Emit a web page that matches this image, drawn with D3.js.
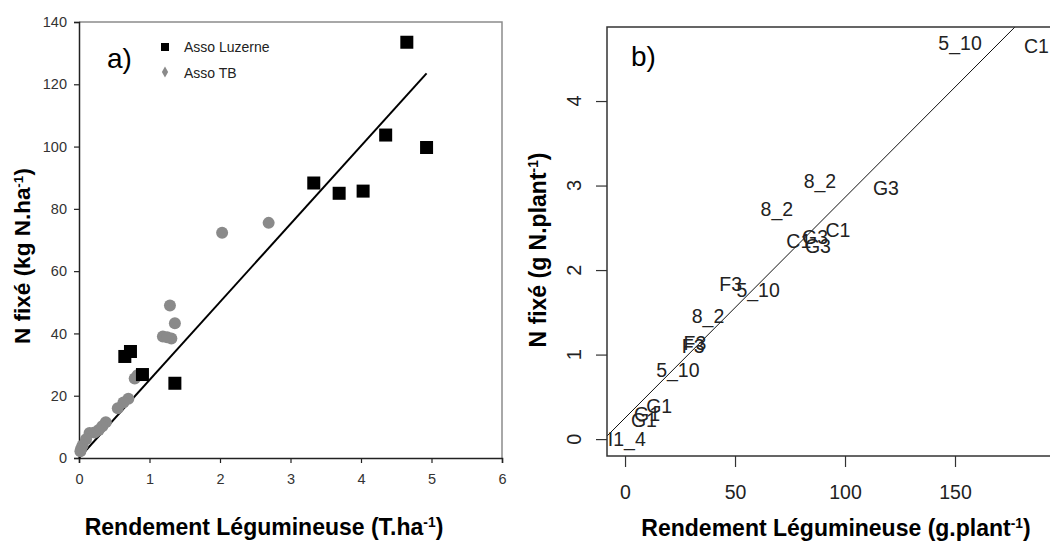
<!DOCTYPE html>
<html>
<head>
<meta charset="utf-8">
<title>N fixé vs rendement</title>
<script src="https://d3js.org/d3.v7.min.js"></script>
<style>
  body { margin: 0; background: #fff; }
  svg { display: block; font-family: "Liberation Sans", Arial, sans-serif; }
</style>
</head>
<body>
<div id="chart"></div>
<script>
// panel a) - Asso Luzerne (squares)
var luzX = [4.65, 4.93, 4.35, 3.33, 3.69, 4.03, 0.65, 0.73, 0.9, 1.36];
var luzY = [133.5, 99.7, 103.7, 88.3, 85, 85.7, 32.6, 34.2, 26.8, 24];
// panel a) - Asso TB (grey dots)
var tbX = [2.03, 2.69, 1.29, 1.36, 1.19, 1.25, 1.31, 0.79, 0.83, 0.7, 0.63, 0.55,
           0.38, 0.33, 0.28, 0.22, 0.15, 0.1, 0.05, 0.03, 0.02];
var tbY = [72.3, 75.5, 49, 43.3, 39, 38.8, 38.4, 25.5, 26.6, 19, 17.8, 16,
           11.5, 10.2, 9, 8.2, 8, 6, 4, 3, 2.2];
var lineAX = [0, 4.93];
var lineAY = [0, 123.5];
var xTicksA = [0, 1, 2, 3, 4, 5, 6];
var yTicksA = [0, 20, 40, 60, 80, 100, 120, 140];
var legendA = ["Asso Luzerne", "Asso TB"];

// panel b) - labelled points
var labB = ["5_10", "C1", "8_2", "G3", "8_2", "C1", "C1", "G3", "G3", "F3", "5_10",
            "8_2", "F3", "F3", "5_10", "G1", "G1", "G1", "I1_4"];
var xB = [152.3, 187, 88.6, 118.6, 69, 96.8, 79, 86.4, 87.7, 48, 60.5,
          37.7, 31.8, 31, 24, 15.5, 10, 8.6, 0.8];
var yB = [4.69, 4.65, 3.05, 2.97, 2.72, 2.47, 2.35, 2.39, 2.28, 1.83, 1.77,
          1.46, 1.14, 1.1, 0.82, 0.39, 0.3, 0.23, 0.0];
var regB = [0.25, 0.0261]; // intercept, slope
var xTicksB = [0, 50, 100, 150];
var yTicksB = [0, 1, 2, 3, 4];

var W = 1050, H = 543;
var svg = d3.select("#chart").append("svg")
  .attr("width", W).attr("height", H);

function supTitle(g, main, sup, close) {
  g.append("tspan").text(main);
  g.append("tspan").text(sup).attr("font-size", "0.6em").attr("dy", "-0.55em");
  g.append("tspan").text(close).attr("dy", "0.35em");
}

// ---------------- panel a ----------------
var xa = d3.scaleLinear().domain([0, 6]).range([79, 502]);
var ya = d3.scaleLinear().domain([0, 140]).range([458, 22]);

var pa = svg.append("g");

// grey frame top/right
pa.append("path")
  .attr("d", "M" + xa(0) + "," + ya(140) + "H" + xa(6) + "V" + ya(0))
  .attr("fill", "none").attr("stroke", "#8c8c8c").attr("stroke-width", 1.5);

var axA = pa.append("g").attr("transform", "translate(0," + ya(0) + ")")
  .call(d3.axisBottom(xa).tickValues(xTicksA).tickSize(5).tickPadding(11).tickFormat(d3.format("d")));
var ayA = pa.append("g").attr("transform", "translate(" + xa(0) + ",0)")
  .call(d3.axisLeft(ya).tickValues(yTicksA).tickSize(5).tickPadding(7).tickFormat(d3.format("d")));
[axA, ayA].forEach(function(a) {
  a.select(".domain").attr("stroke", "#222").attr("stroke-width", 1.5);
  a.selectAll(".tick line").attr("stroke", "#222").attr("stroke-width", 1.2);
  a.selectAll(".tick text").attr("font-size", 14.5).attr("fill", "#333")
    .attr("font-family", "Liberation Sans, Arial, sans-serif");
});

pa.append("line")
  .attr("x1", xa(lineAX[0])).attr("y1", ya(lineAY[0]))
  .attr("x2", xa(lineAX[1])).attr("y2", ya(lineAY[1]))
  .attr("stroke", "#000").attr("stroke-width", 2);

pa.selectAll("circle.tb").data(d3.range(tbX.length)).enter().append("circle")
  .attr("class", "tb")
  .attr("cx", function(i) { return xa(tbX[i]); })
  .attr("cy", function(i) { return ya(tbY[i]); })
  .attr("r", 6).attr("fill", "#8a8a8a");

pa.selectAll("rect.luz").data(d3.range(luzX.length)).enter().append("rect")
  .attr("class", "luz")
  .attr("x", function(i) { return xa(luzX[i]) - 6.5; })
  .attr("y", function(i) { return ya(luzY[i]) - 6.5; })
  .attr("width", 13).attr("height", 13).attr("fill", "#000");

// legend
var lg = pa.append("g");
lg.append("rect").attr("x", 161).attr("y", 43).attr("width", 8).attr("height", 8).attr("fill", "#000");
lg.append("path").attr("d", d3.symbol(d3.symbolDiamond, 34)()).attr("transform", "translate(165,72)").attr("fill", "#8a8a8a");
lg.selectAll("text").data(legendA).enter().append("text")
  .attr("x", 184).attr("y", function(d, i) { return 52 + i * 26; })
  .attr("font-size", 14).attr("fill", "#222").text(function(d) { return d; });

pa.append("text").attr("x", 107).attr("y", 68).attr("font-size", 28).text("a)");

var ta = pa.append("text").attr("x", 264).attr("y", 535)
  .attr("text-anchor", "middle").attr("font-size", 23).attr("font-weight", "bold");
supTitle(ta, "Rendement Légumineuse (T.ha", "-1", ")");

var tya = pa.append("text").attr("transform", "translate(30,256) rotate(-90)")
  .attr("text-anchor", "middle").attr("font-size", 22.5).attr("font-weight", "bold");
supTitle(tya, "N fixé (kg N.ha", "-1", ")");

// ---------------- panel b ----------------
var xb = d3.scaleLinear().domain([-8.2, 200]).range([607, 1065]);
var yb = d3.scaleLinear().domain([-0.2, 4.876]).range([456, 27]);

var pb = svg.append("g");
pb.append("clipPath").attr("id", "clipb").append("rect")
  .attr("x", xb(-8.2)).attr("y", yb(4.876))
  .attr("width", xb(200) - xb(-8.2)).attr("height", yb(-0.2) - yb(4.876));

var inner = pb.append("g").attr("clip-path", "url(#clipb)");
inner.append("line")
  .attr("x1", xb(-8.2)).attr("y1", yb(regB[0] + regB[1] * -8.2))
  .attr("x2", xb(200)).attr("y2", yb(regB[0] + regB[1] * 200))
  .attr("stroke", "#111").attr("stroke-width", 1);
inner.selectAll("text.lab").data(d3.range(labB.length)).enter().append("text")
  .attr("class", "lab")
  .attr("x", function(i) { return xb(xB[i]); })
  .attr("y", function(i) { return yb(yB[i]); })
  .attr("dy", "0.36em").attr("text-anchor", "middle")
  .attr("font-size", 19.5).attr("fill", "#222")
  .text(function(i) { return labB[i]; });

pb.append("rect")
  .attr("x", xb(-8.2)).attr("y", yb(4.876))
  .attr("width", xb(200) - xb(-8.2)).attr("height", yb(-0.2) - yb(4.876))
  .attr("fill", "none").attr("stroke", "#333").attr("stroke-width", 1.5);

var axB = pb.append("g").attr("transform", "translate(0," + yb(-0.2) + ")")
  .call(d3.axisBottom(xb).tickValues(xTicksB).tickSize(11).tickPadding(18).tickFormat(d3.format("d")));
var ayB = pb.append("g").attr("transform", "translate(" + xb(-8.2) + ",0)")
  .call(d3.axisLeft(yb).tickValues(yTicksB).tickSize(11).tickFormat(""));
[axB, ayB].forEach(function(a) {
  a.select(".domain").remove();
  a.selectAll(".tick line").attr("stroke", "#333").attr("stroke-width", 1.2);
});
axB.selectAll(".tick text").attr("font-size", 19.5).attr("fill", "#222")
  .attr("font-family", "Liberation Sans, Arial, sans-serif");

// R style y labels, parallel to the axis
pb.selectAll("text.ylab").data(yTicksB).enter().append("text")
  .attr("class", "ylab")
  .attr("transform", function(d) { return "translate(574," + yb(d) + ") rotate(-90)"; })
  .attr("dy", "0.36em").attr("text-anchor", "middle")
  .attr("font-size", 20).attr("fill", "#222")
  .text(function(d) { return d; });

pb.append("text").attr("x", 631).attr("y", 66).attr("font-size", 28).text("b)");

var tb = pb.append("text").attr("x", 836).attr("y", 536)
  .attr("text-anchor", "middle").attr("font-size", 23).attr("font-weight", "bold");
supTitle(tb, "Rendement Légumineuse (g.plant", "-1", ")");

var tyb = pb.append("text").attr("transform", "translate(546,250) rotate(-90)")
  .attr("text-anchor", "middle").attr("font-size", 23).attr("font-weight", "bold");
supTitle(tyb, "N fixé (g N.plant", "-1", ")");
</script>
</body>
</html>
